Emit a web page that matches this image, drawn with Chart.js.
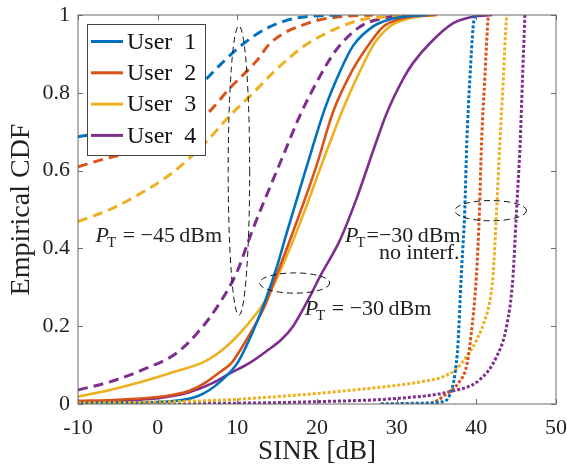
<!DOCTYPE html>
<html>
<head>
<meta charset="utf-8">
<script src="https://cdn.jsdelivr.net/npm/chart.js@4.4.1/dist/chart.umd.min.js"></script>
<style>
  html, body { margin: 0; padding: 0; background: #fff; }
  #wrap { width: 567px; height: 468px; }
</style>
</head>
<body>
<div id="wrap"><canvas id="cdfChart" width="567" height="468"></canvas></div>
<script>
// ===== DATA =====
const users = ["User 1", "User 2", "User 3", "User 4"];
const userColors = ["#0072BD", "#D95319", "#EDB120", "#7E2F8E"];

const xTicks = [-10, 0, 10, 20, 30, 40, 50];
const yTicks = [0, 0.2, 0.4, 0.6, 0.8, 1];

// P_T = -45 dBm (dashed)
const u1LowX = [-10, -6, -2, 2, 5, 6.1, 8, 9.7, 12, 13.8, 16, 18, 20, 23];
const u1LowY = [0.687, 0.70, 0.725, 0.765, 0.81, 0.835, 0.875, 0.908, 0.945, 0.967, 0.985, 0.994, 0.998, 1];
const u2LowX = [-10, -6.3, -3, 0, 3, 5.9, 9.25, 12.5, 14, 16, 18.2, 20, 23.7, 27];
const u2LowY = [0.61, 0.632, 0.648, 0.668, 0.70, 0.74, 0.816, 0.884, 0.925, 0.955, 0.974, 0.986, 0.997, 1];
const u3LowX = [-10, -6, -2, 2, 6, 9, 12, 14.3, 16.2, 18, 20.3, 23, 25.4, 29.5, 33];
const u3LowY = [0.469, 0.50, 0.543, 0.597, 0.672, 0.74, 0.80, 0.848, 0.884, 0.915, 0.944, 0.97, 0.987, 0.997, 1];
const u4LowX = [-10, -6, -2, 2.3, 5.3, 7.8, 9.9, 11.9, 13.6, 15.7, 17.8, 20.3, 22.4, 25.4, 27.9, 31];
const u4LowY = [0.036, 0.057, 0.087, 0.13, 0.19, 0.26, 0.337, 0.447, 0.533, 0.636, 0.739, 0.84, 0.91, 0.97, 0.99, 1];

// P_T = -30 dBm (solid)
const u1HighX = [-10, -5, 0, 3, 5, 6.5, 8, 10, 11.5, 13.4, 15, 16.2, 18.7, 21, 23, 24.5, 27, 29, 31, 34];
const u1HighY = [0.002, 0.003, 0.005, 0.01, 0.02, 0.036, 0.06, 0.105, 0.165, 0.26, 0.355, 0.44, 0.61, 0.76, 0.86, 0.92, 0.97, 0.988, 0.996, 1];
const u2HighX = [-10, -5, 0, 2, 4, 6, 8, 9.25, 11, 13.4, 15, 16.4, 19.9, 22, 24.5, 26.6, 28.3, 30, 32, 35];
const u2HighY = [0.008, 0.011, 0.018, 0.024, 0.034, 0.055, 0.085, 0.105, 0.16, 0.25, 0.335, 0.41, 0.61, 0.75, 0.86, 0.927, 0.97, 0.987, 0.996, 1];
const u3HighX = [-10, -6, -2, 2, 6, 8.6, 11.1, 13.5, 15, 17, 18.7, 20.75, 23.5, 25.5, 27.2, 29.1, 31, 33, 35];
const u3HighY = [0.019, 0.036, 0.057, 0.082, 0.11, 0.147, 0.2, 0.265, 0.325, 0.42, 0.51, 0.625, 0.77, 0.86, 0.927, 0.97, 0.988, 0.997, 1];
const u4HighX = [-10, -5, 0, 3, 5.3, 7, 9, 11.5, 13.6, 15.5, 17, 19.1, 20.3, 22.85, 25, 27.2, 28.7, 30.8, 32, 34.2, 37.1, 39.6, 42];
const u4HighY = [0.005, 0.008, 0.015, 0.025, 0.04, 0.055, 0.078, 0.105, 0.135, 0.165, 0.2, 0.276, 0.325, 0.42, 0.53, 0.66, 0.745, 0.835, 0.875, 0.928, 0.979, 0.996, 1];

// P_T = -30 dBm, no interference (dotted)
const u1FreeX = [28, 33, 35.8, 36.7, 37.3, 37.7, 38.1, 38.55, 38.8, 39.2, 39.6, 39.8];
const u1FreeY = [0, 0.002, 0.006, 0.025, 0.075, 0.156, 0.327, 0.5, 0.67, 0.84, 0.97, 1];
const u2FreeX = [28, 34.2, 36.3, 37.8, 38.8, 39.3, 40.0, 40.4, 40.65, 41.07, 41.4, 41.5];
const u2FreeY = [0, 0.002, 0.027, 0.055, 0.1, 0.17, 0.327, 0.5, 0.67, 0.84, 0.97, 1];
const u3FreeX = [-10, 0, 8, 15, 20, 25, 30.4, 33, 35.8, 37.5, 38.8, 40, 41, 41.7, 42.1, 42.5, 42.95, 43.4, 43.65, 43.8];
const u3FreeY = [0.002, 0.005, 0.01, 0.019, 0.027, 0.037, 0.049, 0.057, 0.07, 0.09, 0.123, 0.163, 0.212, 0.265, 0.33, 0.48, 0.67, 0.84, 0.95, 1];
const u4FreeX = [-10, 10, 20, 30.4, 36.7, 40.4, 42.5, 43.8, 44.6, 45.05, 45.5, 45.8, 46.1];
const u4FreeY = [0, 0.002, 0.006, 0.015, 0.032, 0.062, 0.12, 0.2, 0.327, 0.5, 0.67, 0.84, 1];

const serif = '"Liberation Serif", "Times New Roman", serif';

function toPoints(xs, ys) {
  return xs.map((x, i) => ({ x: x, y: ys[i] }));
}

function series(label, xs, ys, color, style) {
  let dash = [];
  let width = 2.6;
  if (style === "dashed") { dash = [10, 6]; width = 3; }
  if (style === "dotted") { dash = [3, 2]; width = 3; }
  return {
    label: label,
    data: toPoints(xs, ys),
    borderColor: color,
    borderWidth: width,
    borderDash: dash,
    pointRadius: 0,
    fill: false,
    cubicInterpolationMode: "monotone"
  };
}

const datasets = [
  series("User 1 free", u1FreeX, u1FreeY, userColors[0], "dotted"),
  series("User 2 free", u2FreeX, u2FreeY, userColors[1], "dotted"),
  series("User 3 free", u3FreeX, u3FreeY, userColors[2], "dotted"),
  series("User 4 free", u4FreeX, u4FreeY, userColors[3], "dotted"),
  series("User 1 -30", u1HighX, u1HighY, userColors[0], "solid"),
  series("User 2 -30", u2HighX, u2HighY, userColors[1], "solid"),
  series("User 3 -30", u3HighX, u3HighY, userColors[2], "solid"),
  series("User 4 -30", u4HighX, u4HighY, userColors[3], "solid"),
  series("User 1 -45", u1LowX, u1LowY, userColors[0], "dashed"),
  series("User 2 -45", u2LowX, u2LowY, userColors[1], "dashed"),
  series("User 3 -45", u3LowX, u3LowY, userColors[2], "dashed"),
  series("User 4 -45", u4LowX, u4LowY, userColors[3], "dashed")
];

/* ===============================
   FRAME, LEGEND, NOTES
   =============================== */
function drawPT(ctx, x, y, rest) {
  ctx.font = "italic 22px " + serif;
  ctx.fillText("P", x, y);
  let w = ctx.measureText("P").width;
  ctx.font = "15px " + serif;
  ctx.fillText("T", x + w - 2, y + 5);
  w += ctx.measureText("T").width - 1;
  ctx.font = "22px " + serif;
  ctx.fillText(rest, x + w, y);
}

function dashedEllipse(ctx, xs, ys, cx, cy, rx, ry) {
  const px = xs.getPixelForValue(cx);
  const py = ys.getPixelForValue(cy);
  const prx = Math.abs(xs.getPixelForValue(cx + rx) - px);
  const pry = Math.abs(ys.getPixelForValue(cy + ry) - py);
  ctx.beginPath();
  ctx.ellipse(px, py, prx, pry, 0, 0, Math.PI * 2);
  ctx.stroke();
}

const decorPlugin = {
  id: "decor",
  afterDatasetsDraw(chart) {
    const ctx = chart.ctx;
    const a = chart.chartArea;
    const xs = chart.scales.x;
    const ys = chart.scales.y;
    ctx.save();

    // axes box + inward ticks
    ctx.strokeStyle = "#6b6b6b";
    ctx.lineWidth = 1;
    ctx.setLineDash([]);
    ctx.strokeRect(a.left, a.top, a.right - a.left, a.bottom - a.top);
    ctx.beginPath();
    xTicks.forEach(v => {
      const p = Math.round(xs.getPixelForValue(v)) + 0.5;
      ctx.moveTo(p, a.bottom); ctx.lineTo(p, a.bottom - 5);
      ctx.moveTo(p, a.top); ctx.lineTo(p, a.top + 5);
    });
    yTicks.forEach(v => {
      const p = Math.round(ys.getPixelForValue(v)) + 0.5;
      ctx.moveTo(a.left, p); ctx.lineTo(a.left + 5, p);
      ctx.moveTo(a.right, p); ctx.lineTo(a.right - 5, p);
    });
    ctx.stroke();

    // dashed ellipses
    ctx.strokeStyle = "#111";
    ctx.lineWidth = 1;
    ctx.setLineDash([6, 4]);
    dashedEllipse(ctx, xs, ys, 10.2, 0.60, 1.35, 0.372);
    dashedEllipse(ctx, xs, ys, 17.2, 0.311, 4.4, 0.026);
    dashedEllipse(ctx, xs, ys, 41.8, 0.497, 4.5, 0.026);
    ctx.setLineDash([]);

    // notes
    ctx.fillStyle = "#222";
    ctx.textAlign = "left";
    ctx.textBaseline = "alphabetic";
    drawPT(ctx, xs.getPixelForValue(-7.8), ys.getPixelForValue(0.416), " = \u221245\u2009dBm");
    drawPT(ctx, xs.getPixelForValue(23.5), ys.getPixelForValue(0.416), "=\u221230\u2009dBm");
    drawPT(ctx, xs.getPixelForValue(18.45), ys.getPixelForValue(0.229), " = \u221230\u2009dBm");
    ctx.font = "22px " + serif;
    ctx.textAlign = "right";
    ctx.fillText("no interf.", xs.getPixelForValue(37.9), ys.getPixelForValue(0.373));

    // legend box
    const lx = a.left + 9, ly = a.top + 9, lw = 118, lh = 131;
    ctx.fillStyle = "#fff";
    ctx.fillRect(lx, ly, lw, lh);
    ctx.strokeStyle = "#444";
    ctx.lineWidth = 1;
    ctx.strokeRect(lx + 0.5, ly + 0.5, lw, lh);
    ctx.font = "24px " + serif;
    ctx.textAlign = "left";
    ctx.textBaseline = "middle";
    users.forEach((name, i) => {
      const yy = ly + 17.5 + i * 31.3;
      ctx.strokeStyle = userColors[i];
      ctx.lineWidth = 3;
      ctx.beginPath();
      ctx.moveTo(lx + 4, yy);
      ctx.lineTo(lx + 36, yy);
      ctx.stroke();
      ctx.fillStyle = "#111";
      ctx.fillText(name.replace(" ", "\u2002"), lx + 40, yy + 1);
    });

    ctx.restore();
  }
};

// invisible tick marks give the label gap without widening the corner padding
const hiddenGrid = {
  display: true,
  drawOnChartArea: false,
  drawTicks: true,
  color: "rgba(0,0,0,0)"
};

const ctx = document.getElementById("cdfChart");

new Chart(ctx, {
  type: "line",
  data: { datasets: datasets },
  options: {
    responsive: false,
    animation: false,
    layout: { padding: { top: 15, right: 11, left: 0, bottom: 0 } },
    plugins: {
      legend: { display: false },
      tooltip: { enabled: false }
    },
    scales: {
      x: {
        type: "linear",
        min: -10,
        max: 50,
        afterFit: scale => { scale.height = 64; },
        afterBuildTicks: scale => { scale.ticks = xTicks.map(v => ({ value: v })); },
        grid: Object.assign({}, hiddenGrid, { tickLength: 11 }),
        border: { display: false },
        ticks: { color: "#222", padding: 0, font: { family: serif, size: 22 } },
        title: {
          display: true,
          text: "SINR [dB]",
          color: "#222",
          padding: { top: 0, bottom: 0 },
          font: { family: serif, size: 27 }
        }
      },
      y: {
        min: 0,
        max: 1,
        afterFit: scale => { scale.width = 78; },
        afterBuildTicks: scale => { scale.ticks = yTicks.map(v => ({ value: v })); },
        grid: Object.assign({}, hiddenGrid, { tickLength: 8 }),
        border: { display: false },
        ticks: {
          color: "#222",
          padding: 0,
          font: { family: serif, size: 22 },
          callback: v => String(Math.round(v * 10) / 10)
        },
        title: {
          display: true,
          text: "Empirical CDF",
          color: "#222",
          padding: { top: 5, bottom: 0 },
          font: { family: serif, size: 28 }
        }
      }
    }
  },
  plugins: [decorPlugin]
});
</script>
</body>
</html>
